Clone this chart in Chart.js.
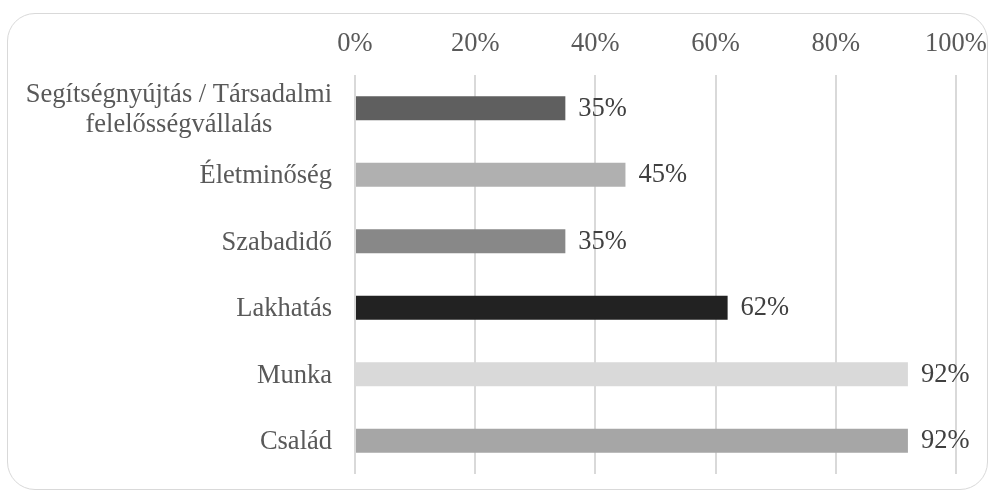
<!DOCTYPE html>
<html>
<head>
<meta charset="utf-8">
<script src="https://cdn.jsdelivr.net/npm/chart.js@4/dist/chart.umd.min.js"></script>
<style>
    html, body { margin: 0; padding: 0; background: #fff; }
    #wrap { position: relative; width: 995px; height: 497px; }
    #frame {
        position: absolute; left: 7px; top: 13px; width: 979px; height: 475px;
        border: 1.5px solid #d9d9d9; border-radius: 28px;
    }
    canvas { position: absolute; left: 0; top: 0; }
</style>
</head>
<body>
<div id="wrap">
    <div id="frame"></div>
    <canvas id="chart" width="995" height="497"></canvas>
</div>
<script>
const categories = [
    ["Segítségnyújtás / Társadalmi", "felelősségvállalás"],
    "Életminőség",
    "Szabadidő",
    "Lakhatás",
    "Munka",
    "Család",
];
const values = [35, 45, 35, 62, 92, 92];
const barColors = ["#5f5f5f", "#b0b0b0", "#888888", "#222222", "#d9d9d9", "#a6a6a6"];
const xTicks = [0, 20, 40, 60, 80, 100];

const FONT = "'Liberation Serif', 'Times New Roman', serif";
const FONT_SIZE = 26.5;

// y labels: right-aligned block, lines centred inside it
const categoryLabels = {
    id: "categoryLabels",
    afterDraw(chart) {
        const { ctx } = chart;
        const scale = chart.scales.y;
        ctx.save();
        ctx.font = FONT_SIZE + "px " + FONT;
        ctx.fillStyle = "#595959";
        ctx.textBaseline = "middle";
        ctx.textAlign = "center";
        const right = scale.right - 23;
        categories.forEach((label, i) => {
            const lines = Array.isArray(label) ? label : [label];
            const w = Math.max(...lines.map((l) => ctx.measureText(l).width));
            const cx = right - w / 2;
            const y = scale.getPixelForTick(i) + 1.5;
            const lh = 30;
            lines.forEach((line, j) => {
                ctx.fillText(line, cx, y + (j - (lines.length - 1) / 2) * lh);
            });
        });
        ctx.restore();
    },
};

// value labels after each bar end
const valueLabels = {
    id: "valueLabels",
    afterDatasetsDraw(chart) {
        const { ctx } = chart;
        const meta = chart.getDatasetMeta(0);
        ctx.save();
        ctx.font = FONT_SIZE + "px " + FONT;
        ctx.fillStyle = "#404040";
        ctx.textBaseline = "middle";
        ctx.textAlign = "left";
        meta.data.forEach((bar, i) => {
            ctx.fillText(values[i] + "%", bar.x + 13, bar.y + 0.5);
        });
        ctx.restore();
    },
};

new Chart(document.getElementById("chart"), {
    type: "bar",
    data: {
        labels: categories,
        datasets: [
            {
                data: values,
                backgroundColor: barColors,
                borderWidth: 0,
                categoryPercentage: 1,
                barPercentage: 0.36,
            },
        ],
    },
    options: {
        indexAxis: "y",
        responsive: false,
        animation: false,
        layout: { padding: { left: 0, top: 0, right: 39, bottom: 23 } },
        plugins: {
            legend: { display: false },
            tooltip: { enabled: false },
        },
        scales: {
            x: {
                position: "top",
                min: 0,
                max: 100,
                afterBuildTicks: (scale) => {
                    scale.ticks = xTicks.map((v) => ({ value: v }));
                },
                afterFit: (scale) => {
                    scale.height = 75;
                    scale.paddingLeft = 0;
                    scale.paddingRight = 0;
                },
                grid: { color: "#d9d9d9", lineWidth: 2, drawTicks: false },
                border: { display: false },
                ticks: {
                    padding: 15,
                    color: "#595959",
                    font: { family: FONT, size: FONT_SIZE },
                    callback: (v) => v + "%",
                },
            },
            y: {
                afterFit: (scale) => {
                    scale.width = 355;
                },
                grid: { display: false },
                border: { display: false },
                ticks: { display: false },
            },
        },
    },
    plugins: [categoryLabels, valueLabels],
});
</script>
</body>
</html>
